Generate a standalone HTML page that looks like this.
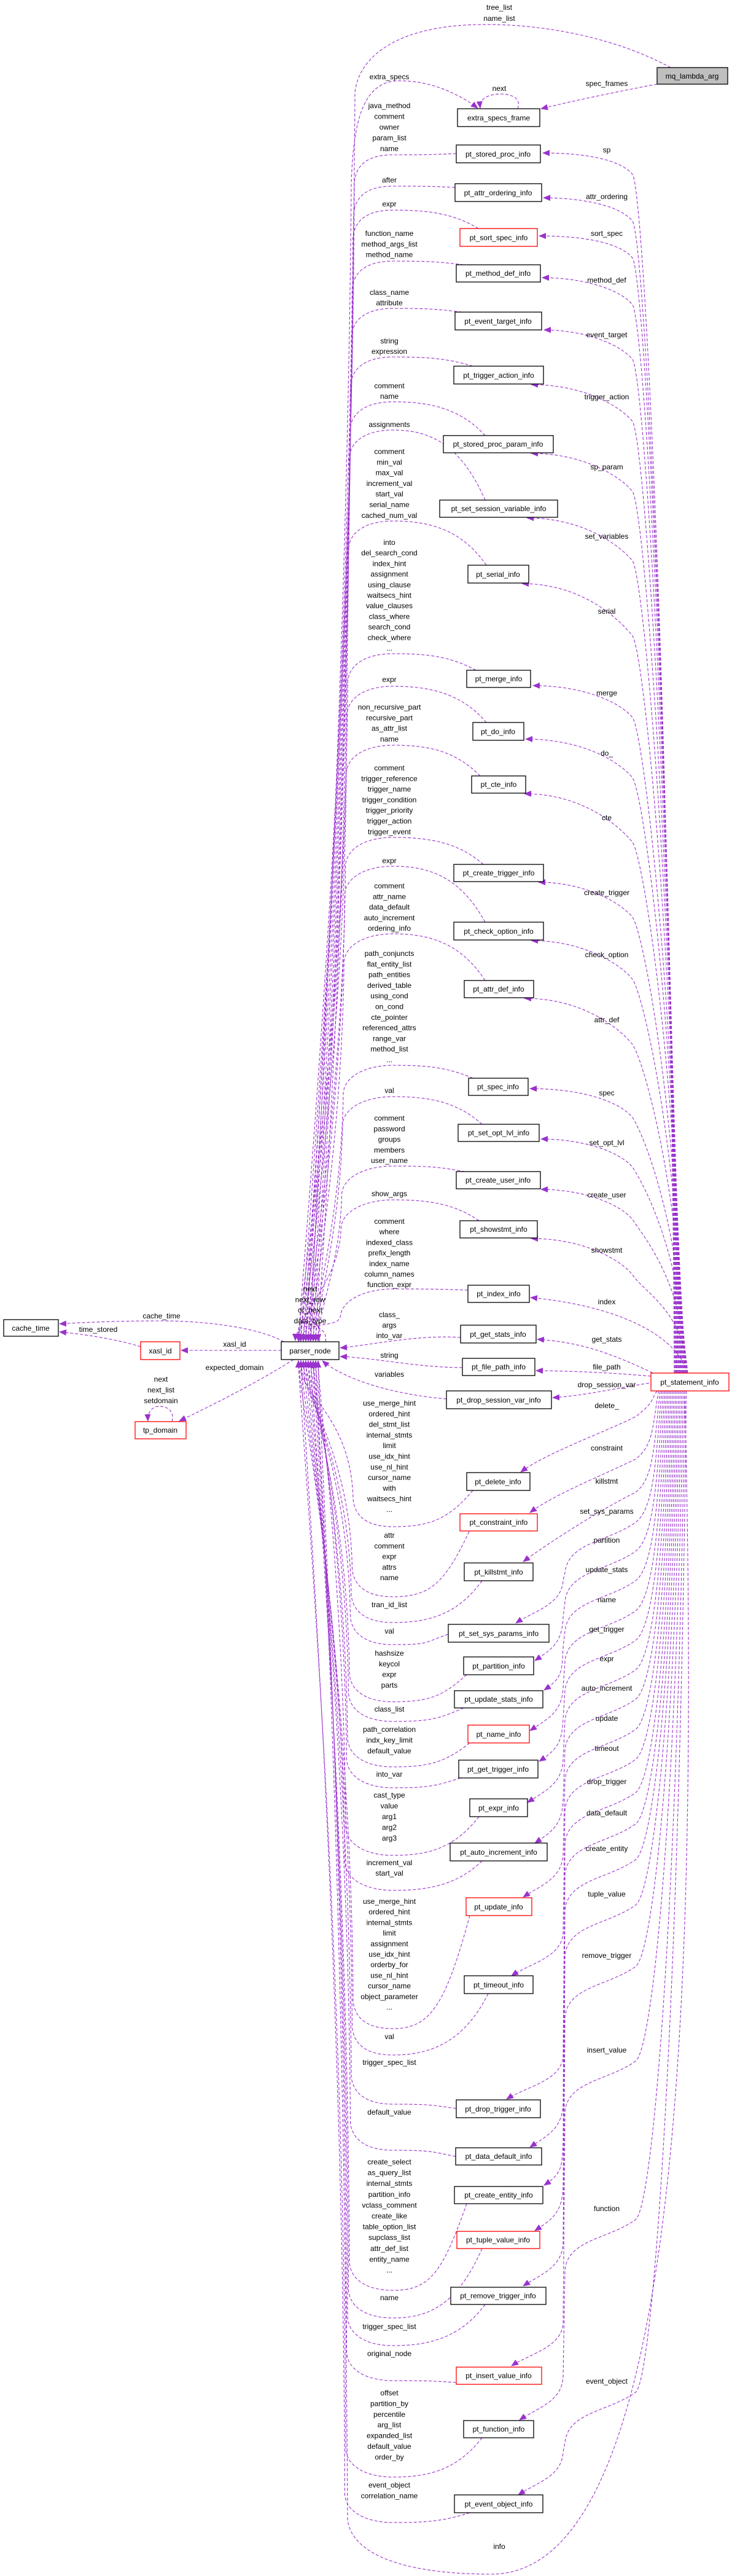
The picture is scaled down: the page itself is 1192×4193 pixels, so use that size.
<!DOCTYPE html>
<html><head><meta charset="utf-8">
<style>
html,body{margin:0;padding:0;background:#fff;}
svg{display:block;font-family:"Liberation Sans",Arial,sans-serif;font-size:12px;}
#edges path{fill:none;stroke:#9a32cd;stroke-width:1.1;stroke-dasharray:5,3;}
.n rect{fill:#fff;stroke:#000;stroke-width:1.3;}
.n rect.r{stroke:#ff0000;}
.n text{text-anchor:middle;fill:#000;}
.l text{text-anchor:middle;fill:#000;}
</style></head><body>
<svg id="s" width="1192" height="4193" viewBox="0 0 1192 4193" xmlns="http://www.w3.org/2000/svg">
<defs><marker id="ah" markerUnits="userSpaceOnUse" markerWidth="12" markerHeight="10" refX="11" refY="5" orient="auto"><path d="M0,0 L12,5 L0,10 z" fill="#9a32cd"/></marker></defs>
<g id="edges"></g>
<g class="n">
<rect x="1070" y="110" width="115" height="27" style="fill:#bfbfbf"/><text x="1127" y="128">mq_lambda_arg</text>
<rect x="745" y="177" width="134" height="29"/><text x="812" y="196">extra_specs_frame</text>
<rect x="743" y="236" width="137" height="29"/><text x="811" y="255">pt_stored_proc_info</text>
<rect x="741" y="299" width="141" height="29"/><text x="811" y="318">pt_attr_ordering_info</text>
<rect class="r" x="749" y="372" width="126" height="29"/><text x="812" y="391">pt_sort_spec_info</text>
<rect x="743" y="431" width="137" height="28"/><text x="811" y="449">pt_method_def_info</text>
<rect x="741" y="508" width="141" height="29"/><text x="811" y="527">pt_event_target_info</text>
<rect x="739" y="596" width="146" height="29"/><text x="812" y="615">pt_trigger_action_info</text>
<rect x="722" y="709" width="179" height="28"/><text x="811" y="727">pt_stored_proc_param_info</text>
<rect x="716" y="814" width="192" height="28"/><text x="812" y="832">pt_set_session_variable_info</text>
<rect x="762" y="920" width="99" height="29"/><text x="811" y="939">pt_serial_info</text>
<rect x="760" y="1091" width="104" height="28"/><text x="812" y="1109">pt_merge_info</text>
<rect x="770" y="1176" width="83" height="29"/><text x="811" y="1195">pt_do_info</text>
<rect x="768" y="1263" width="88" height="28"/><text x="812" y="1281">pt_cte_info</text>
<rect x="739" y="1407" width="146" height="28"/><text x="812" y="1425">pt_create_trigger_info</text>
<rect x="739" y="1501" width="146" height="29"/><text x="812" y="1520">pt_check_option_info</text>
<rect x="756" y="1596" width="113" height="28"/><text x="812" y="1614">pt_attr_def_info</text>
<rect x="763" y="1755" width="97" height="28"/><text x="811" y="1773">pt_spec_info</text>
<rect x="746" y="1830" width="132" height="28"/><text x="812" y="1848">pt_set_opt_lvl_info</text>
<rect x="743" y="1907" width="137" height="28"/><text x="811" y="1925">pt_create_user_info</text>
<rect x="749" y="1987" width="126" height="28"/><text x="812" y="2005">pt_showstmt_info</text>
<rect x="762" y="2092" width="100" height="28"/><text x="812" y="2110">pt_index_info</text>
<rect x="6" y="2148" width="89" height="27"/><text x="50" y="2166">cache_time</text>
<rect class="r" x="229" y="2184" width="64" height="29"/><text x="261" y="2203">xasl_id</text>
<rect class="r" x="220" y="2314" width="83" height="28"/><text x="261" y="2332">tp_domain</text>
<rect x="458" y="2184" width="94" height="29"/><text x="505" y="2203">parser_node</text>
<rect x="750" y="2157" width="123" height="29"/><text x="811" y="2176">pt_get_stats_info</text>
<rect x="753" y="2211" width="118" height="28"/><text x="812" y="2229">pt_file_path_info</text>
<rect x="727" y="2264" width="171" height="29"/><text x="812" y="2283">pt_drop_session_var_info</text>
<rect class="r" x="1060" y="2235" width="127" height="29"/><text x="1123" y="2254">pt_statement_info</text>
<rect x="760" y="2397" width="103" height="29"/><text x="811" y="2416">pt_delete_info</text>
<rect class="r" x="749" y="2464" width="126" height="28"/><text x="812" y="2482">pt_constraint_info</text>
<rect x="756" y="2544" width="112" height="29"/><text x="812" y="2563">pt_killstmt_info</text>
<rect x="730" y="2644" width="164" height="29"/><text x="812" y="2663">pt_set_sys_params_info</text>
<rect x="755" y="2697" width="114" height="29"/><text x="812" y="2716">pt_partition_info</text>
<rect x="740" y="2752" width="144" height="28"/><text x="812" y="2770">pt_update_stats_info</text>
<rect class="r" x="762" y="2808" width="100" height="29"/><text x="812" y="2827">pt_name_info</text>
<rect x="747" y="2865" width="129" height="29"/><text x="811" y="2884">pt_get_trigger_info</text>
<rect x="765" y="2928" width="94" height="29"/><text x="812" y="2947">pt_expr_info</text>
<rect x="733" y="3000" width="158" height="29"/><text x="812" y="3019">pt_auto_increment_info</text>
<rect class="r" x="759" y="3089" width="107" height="29"/><text x="812" y="3108">pt_update_info</text>
<rect x="756" y="3216" width="112" height="29"/><text x="812" y="3235">pt_timeout_info</text>
<rect x="743" y="3418" width="137" height="29"/><text x="811" y="3437">pt_drop_trigger_info</text>
<rect x="742" y="3496" width="140" height="28"/><text x="812" y="3514">pt_data_default_info</text>
<rect x="740" y="3559" width="144" height="28"/><text x="812" y="3577">pt_create_entity_info</text>
<rect class="r" x="744" y="3632" width="135" height="28"/><text x="811" y="3650">pt_tuple_value_info</text>
<rect x="734" y="3723" width="155" height="28"/><text x="811" y="3741">pt_remove_trigger_info</text>
<rect class="r" x="743" y="3853" width="139" height="28"/><text x="812" y="3871">pt_insert_value_info</text>
<rect x="755" y="3940" width="114" height="28"/><text x="812" y="3958">pt_function_info</text>
<rect x="740" y="4061" width="144" height="29"/><text x="812" y="4080">pt_event_object_info</text>
</g>
<g class="l">
<text x="813" y="16">tree_list</text><text x="813" y="34">name_list</text>
<text x="634" y="129">extra_specs</text>
<text x="813" y="148">next</text>
<text x="988" y="140">spec_frames</text>
<text x="634" y="176">java_method<tspan x="634" dy="17.5">comment</tspan><tspan x="634" dy="17.5">owner</tspan><tspan x="634" dy="17.5">param_list</tspan><tspan x="634" dy="17.5">name</tspan></text>
<text x="634" y="297">after</text>
<text x="634" y="336">expr</text>
<text x="634" y="384">function_name<tspan x="634" dy="17.5">method_args_list</tspan><tspan x="634" dy="17">method_name</tspan></text>
<text x="634" y="480">class_name<tspan x="634" dy="17">attribute</tspan></text>
<text x="634" y="559">string<tspan x="634" dy="17">expression</tspan></text>
<text x="634" y="632">comment<tspan x="634" dy="17">name</tspan></text>
<text x="634" y="695">assignments</text>
<text x="634" y="739">comment<tspan x="634" dy="17.3">min_val</tspan><tspan x="634" dy="17.3">max_val</tspan><tspan x="634" dy="17.3">increment_val</tspan><tspan x="634" dy="17.3">start_val</tspan><tspan x="634" dy="17.3">serial_name</tspan><tspan x="634" dy="17.3">cached_num_val</tspan></text>
<text x="634" y="887">into<tspan x="634" dy="17.2">del_search_cond</tspan><tspan x="634" dy="17.2">index_hint</tspan><tspan x="634" dy="17.2">assignment</tspan><tspan x="634" dy="17.2">using_clause</tspan><tspan x="634" dy="17.2">waitsecs_hint</tspan><tspan x="634" dy="17.2">value_clauses</tspan><tspan x="634" dy="17.2">class_where</tspan><tspan x="634" dy="17.2">search_cond</tspan><tspan x="634" dy="17.2">check_where</tspan><tspan x="634" dy="17.2">...</tspan></text>
<text x="634" y="1110">expr</text>
<text x="634" y="1155">non_recursive_part<tspan x="634" dy="17.3">recursive_part</tspan><tspan x="634" dy="17.3">as_attr_list</tspan><tspan x="634" dy="17.3">name</tspan></text>
<text x="634" y="1254">comment<tspan x="634" dy="17.3">trigger_reference</tspan><tspan x="634" dy="17.3">trigger_name</tspan><tspan x="634" dy="17.3">trigger_condition</tspan><tspan x="634" dy="17.3">trigger_priority</tspan><tspan x="634" dy="17.3">trigger_action</tspan><tspan x="634" dy="17.3">trigger_event</tspan></text>
<text x="634" y="1405">expr</text>
<text x="634" y="1446">comment<tspan x="634" dy="17.3">attr_name</tspan><tspan x="634" dy="17.3">data_default</tspan><tspan x="634" dy="17.3">auto_increment</tspan><tspan x="634" dy="17.3">ordering_info</tspan></text>
<text x="634" y="1556">path_conjuncts<tspan x="634" dy="17.3">flat_entity_list</tspan><tspan x="634" dy="17.3">path_entities</tspan><tspan x="634" dy="17.3">derived_table</tspan><tspan x="634" dy="17.3">using_cond</tspan><tspan x="634" dy="17.3">on_cond</tspan><tspan x="634" dy="17.3">cte_pointer</tspan><tspan x="634" dy="17.3">referenced_attrs</tspan><tspan x="634" dy="17.3">range_var</tspan><tspan x="634" dy="17.3">method_list</tspan><tspan x="634" dy="17.3">...</tspan></text>
<text x="634" y="1779">val</text>
<text x="634" y="1824">comment<tspan x="634" dy="17.3">password</tspan><tspan x="634" dy="17.3">groups</tspan><tspan x="634" dy="17.3">members</tspan><tspan x="634" dy="17.3">user_name</tspan></text>
<text x="634" y="1947">show_args</text>
<text x="634" y="1992">comment<tspan x="634" dy="17.2">where</tspan><tspan x="634" dy="17.2">indexed_class</tspan><tspan x="634" dy="17.2">prefix_length</tspan><tspan x="634" dy="17.2">index_name</tspan><tspan x="634" dy="17.2">column_names</tspan><tspan x="634" dy="17.2">function_expr</tspan></text>
<text x="505" y="2102">next<tspan x="505" dy="17.3">next_row</tspan><tspan x="505" dy="17.3">or_next</tspan><tspan x="505" dy="17.3">data_type</tspan></text>
<text x="263" y="2146">cache_time</text>
<text x="160" y="2168">time_stored</text>
<text x="382" y="2192">xasl_id</text>
<text x="382" y="2230">expected_domain</text>
<text x="262" y="2249">next<tspan x="262" dy="17.5">next_list</tspan><tspan x="262" dy="17.5">setdomain</tspan></text>
<text x="634" y="2144">class_<tspan x="634" dy="17">args</tspan><tspan x="634" dy="17">into_var</tspan></text>
<text x="634" y="2210">string</text>
<text x="634" y="2241">variables</text>
<text x="634" y="2288">use_merge_hint<tspan x="634" dy="17.3">ordered_hint</tspan><tspan x="634" dy="17.3">del_stmt_list</tspan><tspan x="634" dy="17.3">internal_stmts</tspan><tspan x="634" dy="17.3">limit</tspan><tspan x="634" dy="17.3">use_idx_hint</tspan><tspan x="634" dy="17.3">use_nl_hint</tspan><tspan x="634" dy="17.3">cursor_name</tspan><tspan x="634" dy="17.3">with</tspan><tspan x="634" dy="17.3">waitsecs_hint</tspan><tspan x="634" dy="17.3">...</tspan></text>
<text x="634" y="2503">attr<tspan x="634" dy="17.3">comment</tspan><tspan x="634" dy="17.3">expr</tspan><tspan x="634" dy="17.3">attrs</tspan><tspan x="634" dy="17.3">name</tspan></text>
<text x="634" y="2616">tran_id_list</text>
<text x="634" y="2659">val</text>
<text x="634" y="2695">hashsize<tspan x="634" dy="17.3">keycol</tspan><tspan x="634" dy="17.3">expr</tspan><tspan x="634" dy="17.3">parts</tspan></text>
<text x="634" y="2786">class_list</text>
<text x="634" y="2819">path_correlation<tspan x="634" dy="17.5">indx_key_limit</tspan><tspan x="634" dy="17.5">default_value</tspan></text>
<text x="634" y="2892">into_var</text>
<text x="634" y="2926">cast_type<tspan x="634" dy="17.5">value</tspan><tspan x="634" dy="17.5">arg1</tspan><tspan x="634" dy="17.5">arg2</tspan><tspan x="634" dy="17.5">arg3</tspan></text>
<text x="634" y="3036">increment_val<tspan x="634" dy="17">start_val</tspan></text>
<text x="634" y="3099">use_merge_hint<tspan x="634" dy="17.2">ordered_hint</tspan><tspan x="634" dy="17.2">internal_stmts</tspan><tspan x="634" dy="17.2">limit</tspan><tspan x="634" dy="17.2">assignment</tspan><tspan x="634" dy="17.2">use_idx_hint</tspan><tspan x="634" dy="17.2">orderby_for</tspan><tspan x="634" dy="17.2">use_nl_hint</tspan><tspan x="634" dy="17.2">cursor_name</tspan><tspan x="634" dy="17.2">object_parameter</tspan><tspan x="634" dy="17.2">...</tspan></text>
<text x="634" y="3319">val</text>
<text x="634" y="3361">trigger_spec_list</text>
<text x="634" y="3442">default_value</text>
<text x="634" y="3523">create_select<tspan x="634" dy="17.6">as_query_list</tspan><tspan x="634" dy="17.6">internal_stmts</tspan><tspan x="634" dy="17.6">partition_info</tspan><tspan x="634" dy="17.6">vclass_comment</tspan><tspan x="634" dy="17.6">create_like</tspan><tspan x="634" dy="17.6">table_option_list</tspan><tspan x="634" dy="17.6">supclass_list</tspan><tspan x="634" dy="17.6">attr_def_list</tspan><tspan x="634" dy="17.6">entity_name</tspan><tspan x="634" dy="17.6">...</tspan></text>
<text x="634" y="3744">name</text>
<text x="634" y="3791">trigger_spec_list</text>
<text x="634" y="3835">original_node</text>
<text x="634" y="3899">offset<tspan x="634" dy="17.4">partition_by</tspan><tspan x="634" dy="17.4">percentile</tspan><tspan x="634" dy="17.4">arg_list</tspan><tspan x="634" dy="17.4">expanded_list</tspan><tspan x="634" dy="17.4">default_value</tspan><tspan x="634" dy="17.4">order_by</tspan></text>
<text x="634" y="4049">event_object<tspan x="634" dy="17.5">correlation_name</tspan></text>
<text x="813" y="4149">info</text>
<text x="988" y="248">sp</text>
<text x="988" y="324">attr_ordering</text>
<text x="988" y="384">sort_spec</text>
<text x="988" y="460">method_def</text>
<text x="988" y="549">event_target</text>
<text x="988" y="650">trigger_action</text>
<text x="988" y="764">sp_param</text>
<text x="988" y="877">set_variables</text>
<text x="988" y="999">serial</text>
<text x="988" y="1132">merge</text>
<text x="988" y="1230">do_</text>
<text x="988" y="1335">cte</text>
<text x="988" y="1457">create_trigger</text>
<text x="988" y="1558">check_option</text>
<text x="988" y="1664">attr_def</text>
<text x="988" y="1783">spec</text>
<text x="988" y="1864">set_opt_lvl</text>
<text x="988" y="1949">create_user</text>
<text x="988" y="2039">showstmt</text>
<text x="988" y="2123">index</text>
<text x="988" y="2184">get_stats</text>
<text x="988" y="2229">file_path</text>
<text x="988" y="2258">drop_session_var</text>
<text x="988" y="2292">delete_</text>
<text x="988" y="2361">constraint</text>
<text x="988" y="2415">killstmt</text>
<text x="988" y="2464">set_sys_params</text>
<text x="988" y="2511">partition</text>
<text x="988" y="2559">update_stats</text>
<text x="988" y="2608">name</text>
<text x="988" y="2656">get_trigger</text>
<text x="988" y="2704">expr</text>
<text x="988" y="2752">auto_increment</text>
<text x="988" y="2801">update</text>
<text x="988" y="2850">timeout</text>
<text x="988" y="2904">drop_trigger</text>
<text x="988" y="2955">data_default</text>
<text x="988" y="3013">create_entity</text>
<text x="988" y="3087">tuple_value</text>
<text x="988" y="3187">remove_trigger</text>
<text x="988" y="3341">insert_value</text>
<text x="988" y="3599">function</text>
<text x="988" y="3880">event_object</text>
</g>
</svg>
<script>
(function(){
var NS='http://www.w3.org/2000/svg',g=document.getElementById('edges');
function P(d,a){var p=document.createElementNS(NS,'path');p.setAttribute('d',d);if(a)p.setAttribute('marker-end','url(#ah)');g.appendChild(p);}
// special
P('M1092,110 C1000,60 880,38 780,40 C650,42 585,90 578,150 C572,1200 498,2100 498,2183',1);
P('M505,2183 C505,2100 565,1200 572,300 C575,200 590,140 640,132 C700,128 750,155 778,176',1);
P('M1070,137 C1000,150 930,165 881,177',1);
P('M843,177 C850,158 830,153 815,153 C800,153 780,158 782,176',1);
P('M462,2184 C420,2160 330,2150 263,2150 C180,2150 130,2153 97,2155',1);
P('M229,2192 C190,2180 140,2172 97,2168',1);
P('M458,2198 L295,2198',1);
P('M478,2213 C420,2250 340,2290 292,2313',1);
P('M280,2314 C285,2295 270,2289 260,2289 C250,2289 240,2296 241,2313',1);
P('M530,2184 C535,2160 505,2155 495,2160 C485,2165 481,2172 481,2182',1);
P('M520,2184 C528,2150 500,2145 490,2155 C484,2162 486,2172 488,2182',1);
P('M750,2177 C680,2172 600,2190 554,2194',1);
P('M753,2226 C680,2226 610,2210 554,2208',1);
P('M727,2277 C640,2270 560,2245 525,2215',1);
// upper left to parser top
var U=[[743,250,252],[741,305,303],[779,372,342],[755,431,425],[752,508,502],[770,596,581],[790,709,654],[790,814,700],[792,920,848],[775,1091,1064],[792,1176,1117],[782,1263,1213],[787,1407,1363],[790,1501,1410],[790,1596,1520],[770,1755,1734],[785,1830,1785],[757,1907,1898],[780,1987,1953],[762,2100,2098]];
U.forEach(function(u,i){var ax=u[0],ay=u[1],pk=u[2],cx=577-i*1.2,bx=486+(i%9)*4;
var y1=Math.max(pk+45,Math.min(2140,pk+45));
P('M'+ax+','+ay+' C'+(ax-40)+','+(pk+(ay-pk)*0.2)+' 700,'+pk+' 640,'+pk+' C600,'+pk+' '+(cx+3)+','+(pk+15)+' '+cx+','+y1+' C'+(cx-3)+','+(y1+(2183-y1)*0.5)+' '+bx+','+Math.max(y1+5,2130)+' '+bx+',2183',1);});
// lower left to parser bottom
var Lw=[[770,2426,2485],[764,2493,2599],[785,2573,2641],[730,2660,2677],[760,2726,2770],[755,2780,2802],[765,2837,2876],[750,2894,2910],[780,2957,3020],[785,3029,3077],[765,3118,3302],[795,3245,3345],[743,3432,3425],[742,3510,3500],[760,3587,3728],[785,3660,3773],[790,3751,3818],[743,3878,3875],[785,3968,4032],[765,4090,4106]];
Lw.forEach(function(u,i){var ax=u[0],ay=u[1],tr=u[2],cx=575-(i%10)*1.5,bx=486+(i%9)*4;
P('M'+ax+','+ay+' C'+(ax-40)+','+(ay+(tr-ay)*0.8)+' 700,'+tr+' 640,'+tr+' C600,'+tr+' '+(cx+3)+','+(tr-15)+' '+cx+','+(tr-45)+' C'+(cx-3)+','+(tr-45-(tr-2214)*0.5)+' '+bx+',2270 '+bx+',2215',1);});
// right upper
var RU=[[882,249,244],[883,322,320],[876,384,380],[881,452,456],[884,537,545],[863,626,646],[863,738,760],[856,843,873],[848,950,995],[866,1116,1128],[854,1203,1226],[852,1292,1331],[875,1436,1453],[863,1531,1554],[852,1625,1660],[861,1772,1779],[879,1854,1860],[879,1936,1945],[863,2016,2035]];
RU.forEach(function(u,i){var ax=u[0],ay=u[1],L=u[2],sx=1098+i*1.2;
P('M'+sx+',2235 C'+(sx-5)+','+(L+(2235-L)*0.5)+' 1050,'+(L+70)+' 1030,'+(L+40)+' C1010,'+(L+15)+' 950,'+ay+' '+(ax+2)+','+ay,1);});
P('M1120,2235 C1100,2170 1000,2125 864,2112',1);
P('M1070,2238 C1000,2205 950,2185 875,2180',1);
P('M1060,2240 C1000,2235 950,2232 873,2231',1);
P('M1065,2250 C1000,2260 950,2272 900,2275',1);
// right lower
var RL=[[848,2396,2288],[863,2462,2357],[852,2542,2411],[840,2642,2460],[871,2703,2507],[886,2751,2555],[863,2817,2604],[878,2867,2652],[859,2934,2700],[871,3000,2748],[852,3088,2797],[833,3216,2846],[825,3417,2900],[863,3495,2951],[886,3557,3009],[871,3631,3083],[852,3721,3183],[833,3851,3337],[846,3939,3595],[844,4061,3876]];
RL.forEach(function(u,i){var ax=u[0],ay=u[1],L=u[2],sx=1070+i*2.5;
var d='M'+sx+',2264 C'+(sx-10)+','+(2264+(L-2264)*0.6)+' 1065,'+(L-5)+' 1035,'+(L+18);
if(ay-L<170){d+=' C980,'+(L+45)+' '+(ax+40)+','+(ay-30)+' '+ax+','+ay;}
else{d+=' C990,'+(L+50)+' 925,'+(L+50)+' 920,'+(L+100)+' L917,'+(ay-70)+' C915,'+(ay-30)+' '+(ax+30)+','+(ay-20)+' '+ax+','+ay;}
P(d,1);});
P('M1115,2264 C1140,3300 1100,4190 800,4190 C640,4190 570,4150 566,4100 C560,3000 520,2300 510,2216',1);
})();
</script>
</body></html>
